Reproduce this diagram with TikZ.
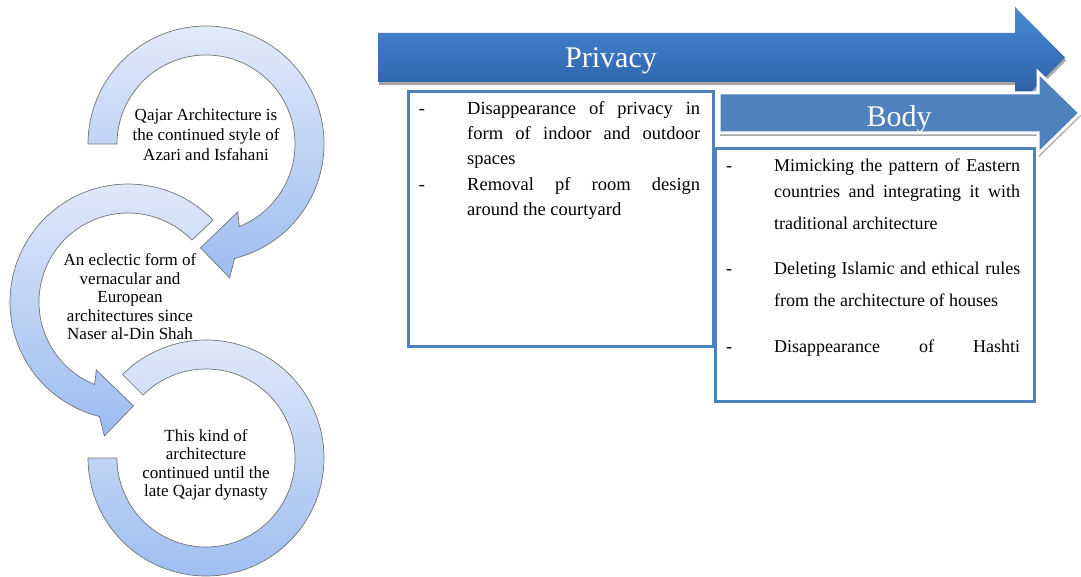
\documentclass[tikz,border=0pt]{standalone}
\usepackage{fontspec}
\setmainfont{Liberation Serif}
\usetikzlibrary{shadows,calc}
\definecolor{accent}{RGB}{79,129,189}
\definecolor{circtop}{RGB}{226,234,250}
\definecolor{circbot}{RGB}{156,188,240}
\definecolor{outl}{RGB}{115,115,115}
\definecolor{privtop}{RGB}{74,138,214}
\definecolor{privbot}{RGB}{40,90,158}
\begin{document}
\begin{tikzpicture}[x=1pt,y=1pt,
  circarrow/.style={draw=outl, line width=0.7pt, top color=circtop, bottom color=circbot},
  circtext/.style={align=center, inner sep=0},
  boxline/.style={anchor=base west, inner sep=0},
  dashmark/.style={anchor=base, inner sep=0},
  framebox/.style={draw=accent, line width=2.9pt, inner sep=0, anchor=north west},
  headtext/.style={anchor=base, inner sep=0, text=white, font=\fontsize{30}{36}\selectfont},
  softshadow/.style={drop shadow={shadow xshift=1pt, shadow yshift=-3pt, opacity=0.35, fill=black}},
]
\useasboundingbox (0,0) rectangle (1081,576);

% ---- circular arrows ----
\coordinate (c3) at (206,118);
\draw[circarrow] ($(c3)+(135:118)$) arc[start angle=135, end angle=-180, radius=118]
  -- ($(c3)+(180:89)$) arc[start angle=-180, end angle=135, radius=89] -- cycle;

\coordinate (c2) at (128,274);
\draw[circarrow] ($(c2)+(44:118)$) arc[start angle=44, end angle=256, radius=118]
  -- ($(c2)+(260:136)$) -- ($(c2)+(273:104)$) -- ($(c2)+(245:75)$)
  -- ($(c2)+(248:89)$) arc[start angle=248, end angle=44, radius=89] -- cycle;

\coordinate (c1) at (206,432);
\draw[circarrow] ($(c1)+(180:118)$) arc[start angle=180, end angle=-76, radius=118]
  -- ($(c1)+(-80:136)$) -- ($(c1)+(-93:104)$) -- ($(c1)+(-65:75)$)
  -- ($(c1)+(-68:89)$) arc[start angle=-68, end angle=180, radius=89] -- cycle;

\node[circtext, font=\fontsize{17}{20}\selectfont] (t1) at (206,441)
  {Qajar Architecture is\\the continued style of\\Azari and Isfahani};
\node[circtext, font=\fontsize{17}{18.5}\selectfont] (t2) at (130,279)
  {An eclectic form of\\vernacular and\\European\\architectures since\\Naser al-Din Shah};
\node[circtext, font=\fontsize{17}{18.5}\selectfont] (t3) at (206,111)
  {This kind of\\architecture\\continued until the\\late Qajar dynasty};

% ---- Privacy arrow ----
\draw[softshadow, top color=privtop, bottom color=privbot, draw=none]
  (378,543) -- (1015,543) -- (1015,569) -- (1065,518.5) -- (1015,468) -- (1015,494) -- (378,494) -- cycle;
\node[headtext] (privacy) at (611,508) {Privacy};

% ---- Privacy box ----
\node[framebox, minimum width=305pt, minimum height=255pt] (privbox) at (407,486) {};
\begin{scope}[font=\fontsize{18.5}{22}\selectfont]
\node[dashmark] (pd1) at (422,461) {-};
\node[dashmark] (pd2) at (422,385) {-};
\node[boxline] (p1) at (467,461) {\makebox[233pt][s]{Disappearance of privacy in}};
\node[boxline] (p2) at (467,436) {\makebox[233pt][s]{form of indoor and outdoor}};
\node[boxline] (p3) at (467,411) {spaces};
\node[boxline] (p4) at (467,385) {\makebox[233pt][s]{Removal pf room design}};
\node[boxline] (p5) at (467,360) {around the courtyard};
\end{scope}

% ---- Body arrow ----
\draw[softshadow, fill=accent, draw=white, line width=3pt]
  (719,483) -- (1038,483) -- (1038,504) -- (1080,463) -- (1038,422) -- (1038,443) -- (719,443) -- cycle;
\node[headtext] (body) at (899,449) {Body};

% ---- Body box ----
\node[framebox, minimum width=319pt, minimum height=253pt] (bodybox) at (714,429) {};
\begin{scope}[font=\fontsize{18}{22}\selectfont]
\node[dashmark] (bd1) at (729,404) {-};
\node[dashmark] (bd2) at (729,301) {-};
\node[dashmark] (bd3) at (729,223) {-};
\node[boxline] (b1) at (774,404) {\makebox[246pt][s]{Mimicking the pattern of Eastern}};
\node[boxline] (b2) at (774,378) {\makebox[246pt][s]{countries and integrating it with}};
\node[boxline] (b3) at (774,346) {traditional architecture};
\node[boxline] (b4) at (774,301) {\makebox[246pt][s]{Deleting Islamic and ethical rules}};
\node[boxline] (b5) at (774,269) {from the architecture of houses};
\node[boxline] (b6) at (774,223) {\makebox[246pt][s]{Disappearance of Hashti}};
\end{scope}
\end{tikzpicture}
\end{document}
